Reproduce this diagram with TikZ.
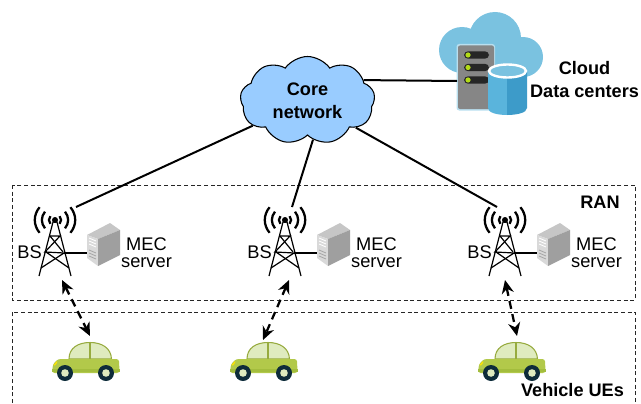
\documentclass[tikz,border=0pt]{standalone}
\usepackage{fontspec}
\setmainfont{Liberation Sans}
\usetikzlibrary{calc}
\usetikzlibrary{arrows.meta}
\usetikzlibrary{shapes.symbols}

\definecolor{corefill}{HTML}{99CCFF}
\definecolor{dcsky}{HTML}{7AC2E0}
\definecolor{dcrim}{HTML}{B9DFEF}
\definecolor{dcleft}{HTML}{5AB4DC}
\definecolor{dcright}{HTML}{3D9BC9}
\definecolor{carbody}{HTML}{B2C94A}
\definecolor{carlow}{HTML}{A3BD3D}
\definecolor{carglass}{HTML}{DFEBBF}
\definecolor{cartyre}{HTML}{0E2C3A}

\tikzset{
	txt/.style={font=\fontsize{13.7}{13}\selectfont, inner sep=0pt, align=center},
	boldtxt/.style={font=\fontsize{13.6}{17.25}\selectfont\bfseries, inner sep=0pt, align=center},
	zone/.style={black!85, densely dashed, line width=.7pt},
	wire/.style={black, line width=1.5pt},
	link/.style={black, line width=1.7pt, dash pattern=on 6pt off 4pt, {Stealth[length=10pt,width=9pt]}-{Stealth[length=10pt,width=9pt]}},
	wave/.style={black, line width=1.7pt},
	mast/.style={black, line width=.9pt},
}

% base station with its MEC server
\newcommand{\mecsite}[2]{
	\begin{scope}[shift={(#1,0)}]
		\foreach \r in {6,13,20}{
			\draw[wave] ($(55,220)+(-.77*\r,-.64*\r)$) to[bend right=40] ($(55,220)+(-.77*\r,.64*\r)$);
			\draw[wave] ($(55,220)+(.77*\r,-.64*\r)$) to[bend left=40] ($(55,220)+(.77*\r,.64*\r)$);
		}
		\fill (55,220) circle (3);
		\draw[mast] (39,276) -- (53,222) -- (57,222) -- (71,276);
		\draw[mast] (50,236) -- (60,236) -- (45,252) -- (64,253) -- (41,268);
		\draw[mast] (50,236) -- (63,252);
		\draw[mast] (46,252) -- (69,268);
		\draw[wire] (64,253) -- (87,253);
		\fill[gray!45] (87,235) -- (110,223) -- (120,230) -- (98,239) -- cycle;
		\fill[gray!30] (87,235) -- (98,239) -- (98,266) -- (87,258) -- cycle;
		\fill[gray!75] (98,239) -- (120,230) -- (120,255) -- (98,266) -- cycle;
		\foreach \y in {0,3,6}{
			\draw[white, line width=.6pt] (89,238+\y) -- (96,241+\y);
			\draw[gray!70, line width=.6pt] (89,250+\y) -- (96,253+\y);
		}
		\node[txt] (mec#2) at (146.5,253) {MEC\\server};
		\node[txt] (bs#2) at (29.5,252) {BS};
	\end{scope}
}

% vehicle
\newcommand{\vehicle}[2]{
	\begin{scope}[shift={(#1,0)}]
		\draw[carbody!85!black, fill=carglass, line width=.8pt] (69,359) .. controls (69,348) and (78,342.5) .. (90,342.5) .. controls (102,342.5) and (111,348) .. (111.5,359) -- cycle;
		\draw[carbody!85!black, line width=.8pt] (90,342.5) -- (90,359);
		\fill[carbody, rounded corners=2pt] (52,373) -- (53,364) -- (58,359) -- (119,359) -- (119.5,373) -- cycle;
		\fill[carlow] (52,369) -- (119.5,369) -- (119.5,372) -- (52,372) -- cycle;
		\fill[yellow!85!orange] (53.5,365) -- (57,361) -- (57,363) -- (55,365.5) -- cycle;
		\foreach \cx in {65,106}{
			\fill[cartyre] (\cx,373) circle (8);
			\fill[carglass] (\cx,373) circle (3.8);
		}
	\end{scope}
}

\begin{document}
\begin{tikzpicture}[x=.75pt, y=-.75pt]
	\useasboundingbox (0,0) rectangle (641,403);

	% zones
	\draw[zone] (12,185) rectangle (635,300);
	\draw[zone] (12,403) -- (12,312) -- (635,312) -- (635,403);
	\node[boldtxt] (ran) at (600,202) {RAN};
	\node[boldtxt] (ues) at (572.5,390) {Vehicle UEs};

	% data center
	\begin{scope}
		\fill[dcsky] (495,38) circle (26);
		\fill[dcsky] (462,50) circle (23);
		\fill[dcsky] (523,57) circle (20);
		\fill[dcsky] (462,40) rectangle (523,77);
		\fill[dcrim, rounded corners=2pt] (456.5,44) rectangle (495,110.5);
		\fill[gray!95, rounded corners=1.5pt] (458,45.5) rectangle (494,109);
		\foreach \y in {55,67.5,80}{
			\fill[black!85, rounded corners=3pt] (464,\y-3.7) rectangle (489,\y+3.7);
			\fill[yellow!70!green] (468,\y) circle (2.6);
		}
		\fill[dcleft] (488,71) -- (507,71) -- (507,115) .. controls (498,115) and (488,113) .. (488,108) -- cycle;
		\fill[dcright] (507,71) -- (527,71) -- (527,108) .. controls (527,113) and (516,115) .. (507,115) -- cycle;
		\draw[white, fill=dcsky, line width=1.8pt] (507.5,71) ellipse (18.5 and 6.5);
	\end{scope}
	\node[boldtxt] (dclabel) at (584.5,79.5) {Cloud\\Data centers};

	% core
	\node[cloud, draw=black, fill=corefill, line width=.8pt, cloud puffs=9, cloud puff arc=110, cloud ignores aspect, minimum width=101pt, minimum height=66pt, inner sep=0pt, boldtxt] (core) at (307.5,100.5) {Core\\network};

	% sites
	\mecsite{0}{a}
	\mecsite{230}{b}
	\mecsite{450}{c}
	\vehicle{0}{a}
	\vehicle{178}{b}
	\vehicle{426}{c}

	\coordinate (tipa) at (76,207);
	\coordinate (tipb) at (292,207);
	\coordinate (tipc) at (497,207);
	\coordinate (dc) at (457,81);
	\coordinate (foota) at (62,280);
	\coordinate (footb) at (289,280);
	\coordinate (footc) at (505,280);
	\coordinate (roofa) at (90,336);
	\coordinate (roofb) at (263,340);
	\coordinate (roofc) at (517,336);

	\draw[wire] (core) -- (tipa);
	\draw[wire] (core.278) -- (tipb);
	\draw[wire] (core) -- (tipc);
	\draw[wire] (core.20) -- (dc);
	\draw[link] (foota) -- (roofa);
	\draw[link] (footb) -- (roofb);
	\draw[link] (footc) -- (roofc);
\end{tikzpicture}
\end{document}
